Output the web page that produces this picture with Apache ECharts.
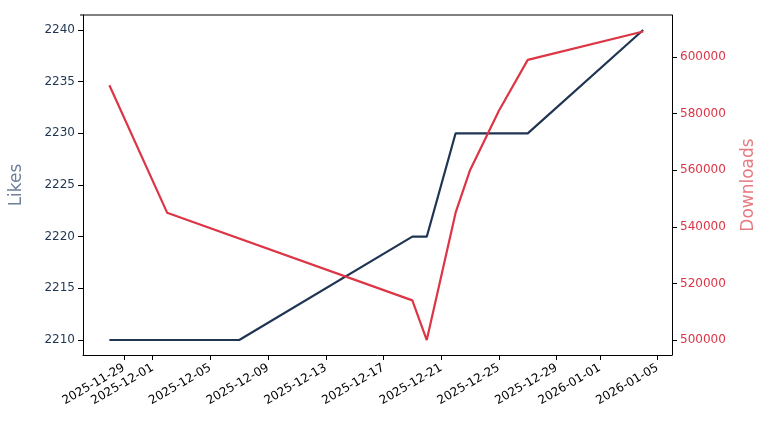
<!DOCTYPE html>
<html>
<head>
<meta charset="utf-8">
<script src="https://cdn.jsdelivr.net/npm/echarts@6/dist/echarts.min.js"></script>
<style>html,body{margin:0;padding:0;}#chart{width:768px;height:432px;}</style>
</head>
<body>
<div id="chart"></div>
<script>
// likes (left axis)
const likesDates = ['2025-11-28', '2025-12-07', '2025-12-19', '2025-12-20', '2025-12-22', '2025-12-27', '2026-01-04'];
const likesValues = [2210, 2210, 2220, 2220, 2230, 2230, 2240];
// downloads (right axis)
const dlDates = ['2025-11-28', '2025-12-02', '2025-12-19', '2025-12-20', '2025-12-22', '2025-12-23', '2025-12-25', '2025-12-27', '2026-01-04'];
const dlValues = [590000, 545000, 514000, 500000, 545000, 560000, 581000, 599000, 609000];
// tick labels
const xTicks = ['2025-11-29', '2025-12-01', '2025-12-05', '2025-12-09', '2025-12-13', '2025-12-17', '2025-12-21', '2025-12-25', '2025-12-29', '2026-01-01', '2026-01-05'];
const likesTicks = [2210, 2215, 2220, 2225, 2230, 2235, 2240];
const dlTicks = [500000, 520000, 540000, 560000, 580000, 600000];

const ts = s => { const p = s.split('-'); return Date.UTC(+p[0], +p[1] - 1, +p[2]); };
const fmt = v => new Date(v).toISOString().slice(0, 10);
const DAY = 86400000;
const base = ts('2025-12-01');

const chart = echarts.init(document.getElementById('chart'));
chart.setOption({
	animation: false,
	grid: { left: 80, right: 96, top: 15, bottom: 77 },
	xAxis: {
		type: 'value',
		min: base - 4.83 * DAY,
		max: base + 36.0 * DAY,
		axisLine: { lineStyle: { color: '#000' } },
		axisTick: { customValues: xTicks.map(ts), length: 5, lineStyle: { color: '#000' } },
		axisLabel: {
			customValues: xTicks.map(ts),
			formatter: v => fmt(v),
			rotate: 30, color: '#000', fontSize: 12, fontFamily: 'DejaVu Sans', margin: 12
		},
		splitLine: { show: false }
	},
	yAxis: [
		{
			type: 'value', min: 2208.55, max: 2241.45,
			name: 'Likes', nameLocation: 'middle', nameGap: 58,
			nameTextStyle: { color: '#6f819b', fontSize: 17, fontFamily: 'DejaVu Sans' },
			axisLine: { show: true, lineStyle: { color: '#000' } },
			axisTick: { show: true, length: 5, lineStyle: { color: '#000' }, customValues: likesTicks },
			axisLabel: { color: '#1f3552', fontSize: 12, fontFamily: 'DejaVu Sans',
				customValues: likesTicks, formatter: v => String(v) },
			splitLine: { show: false }
		},
		{
			type: 'value', min: 494700, max: 614850,
			name: 'Downloads', nameLocation: 'middle', nameGap: 68,
			nameTextStyle: { color: '#e57a82', fontSize: 17, fontFamily: 'DejaVu Sans' },
			axisLine: { show: true, lineStyle: { color: '#000' } },
			axisTick: { show: true, length: 5, lineStyle: { color: '#000' }, customValues: dlTicks },
			axisLabel: { color: '#dc3545', fontSize: 12, fontFamily: 'DejaVu Sans',
				customValues: dlTicks, formatter: v => String(v) },
			splitLine: { show: false }
		}
	],
	series: [
		{
			name: 'Likes', type: 'line', yAxisIndex: 0, symbol: 'none',
			lineStyle: { color: '#1f3552', width: 2.2 },
			data: likesDates.map((d, i) => [ts(d), likesValues[i]])
		},
		{
			name: 'Downloads', type: 'line', yAxisIndex: 1, symbol: 'none',
			lineStyle: { color: '#dc3545', width: 2.2 },
			data: dlDates.map((d, i) => [ts(d), dlValues[i]])
		}
	],
	// top border of the box
	graphic: [{ type: 'line', shape: { x1: 80, y1: 15, x2: 672, y2: 15 }, style: { stroke: '#000', lineWidth: 1 } }]
});
</script>
</body>
</html>
